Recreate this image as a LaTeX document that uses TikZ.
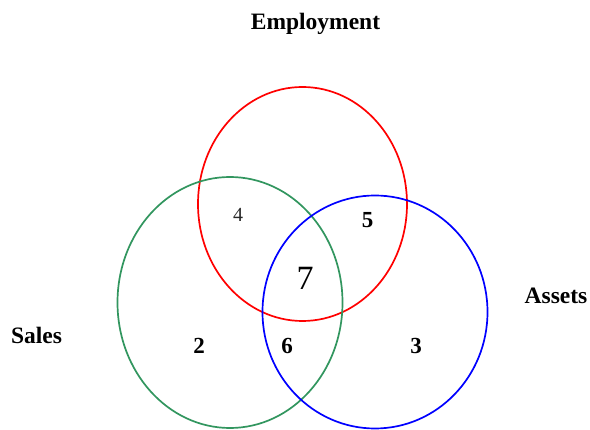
\documentclass[tikz,border=0pt]{standalone}
\usepackage{fontspec}
\setmainfont{Liberation Serif}
\definecolor{vgreen}{RGB}{50,150,95}
\definecolor{vred}{RGB}{255,0,0}
\definecolor{vblue}{RGB}{0,0,255}
\definecolor{vgray}{RGB}{40,40,40}
\tikzset{
  setline/.style={line width=1.7pt},
  biglabel/.style={font=\fontsize{23.5}{28}\selectfont\bfseries, anchor=base, inner sep=0pt},
  count/.style={font=\fontsize{23}{28}\selectfont\bfseries, anchor=base, inner sep=0pt},
}
\begin{document}
\begin{tikzpicture}[x=1pt,y=-1pt]
\useasboundingbox (0,0) rectangle (590,430);
\fill[white] (0,0) rectangle (590,430);
% sets
\draw[setline, vred] (302.5,204) ellipse [x radius=104.5pt, y radius=117pt];
\draw[setline, vgreen] (230,302.5) ellipse [x radius=112.5pt, y radius=125.5pt];
\draw[setline, vblue] (375,312) ellipse [x radius=112.5pt, y radius=116.5pt];
% set labels
\node[biglabel] (employment) at (315.5,30) {Employment};
\node[biglabel] (sales) at (36.5,344) {Sales};
\node[biglabel] (assets) at (556,304) {Assets};
% counts
\node[font=\fontsize{20}{24}\selectfont, anchor=base, inner sep=0pt, text=vgray] (c4) at (238,221.7) {4};
\node[count] (c5) at (367.7,227.7) {5};
\node[font=\fontsize{34}{40}\selectfont, anchor=base, inner sep=0pt] (c7) at (305,289.3) {7};
\node[count] (c2) at (199,354) {2};
\node[count] (c6) at (287,354) {6};
\node[count] (c3) at (416,354) {3};
\end{tikzpicture}
\end{document}
